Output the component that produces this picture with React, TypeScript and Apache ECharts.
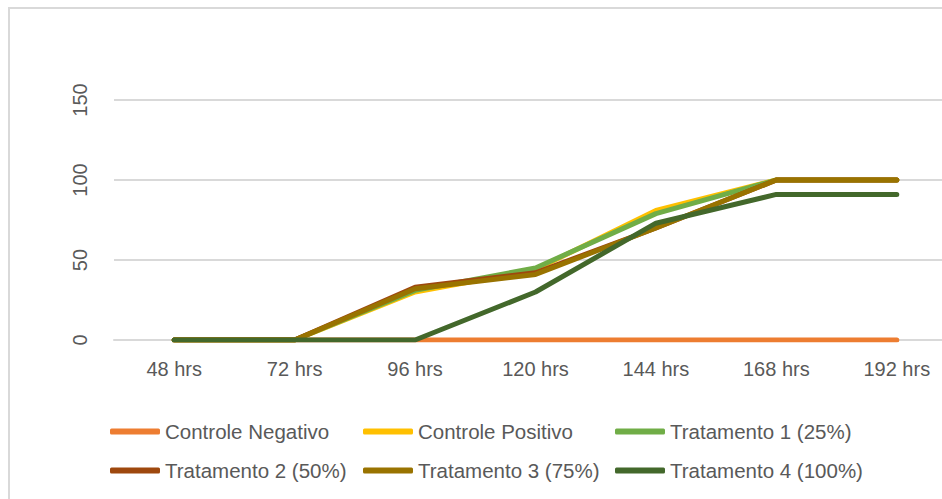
import React, { useEffect, useRef } from "react";
import * as echarts from "echarts";

// Category labels (hours after inoculation)
const categories = ["48 hrs", "72 hrs", "96 hrs", "120 hrs", "144 hrs", "168 hrs", "192 hrs"];

// Series values (%)
const controleNegativo = [0, 0, 0, 0, 0, 0, 0];
const controlePositivo = [0, 0, 30, 44, 81, 100, 100];
const tratamento1 = [0, 0, 31, 45, 79, 100, 100];
const tratamento2 = [0, 0, 33, 42, 70, 100, 100];
const tratamento3 = [0, 0, 32, 41, 70, 100, 100];
const tratamento4 = [0, 0, 0, 30, 73, 91, 91];

const seriesNames = [
  "Controle Negativo",
  "Controle Positivo",
  "Tratamento 1 (25%)",
  "Tratamento 2 (50%)",
  "Tratamento 3 (75%)",
  "Tratamento 4 (100%)",
];
const seriesData = [controleNegativo, controlePositivo, tratamento1, tratamento2, tratamento3, tratamento4];
const seriesColors = ["#ED7D31", "#FFC000", "#70AD47", "#9E480E", "#997300", "#43682B"];

const FONT = "'Liberation Sans', Arial, sans-serif";
const TEXT_COLOR = "#595959";

// Legend slots: two rows of three columns
const legendCols = [110, 363, 615];
const legendRows = [421, 460];

export default function App() {
  const ref = useRef<HTMLDivElement>(null);

  useEffect(() => {
    if (!ref.current) return;
    const chart = echarts.init(ref.current, undefined, { renderer: "svg" });

    const legends = seriesNames.map((name, i) => ({
      data: [name],
      left: legendCols[i % 3],
      top: legendRows[Math.floor(i / 3)],
      itemWidth: 50,
      itemHeight: 6,
      icon: "roundRect",
      padding: 0,
      textStyle: { fontFamily: FONT, fontSize: 20.5, color: TEXT_COLOR },
      selectedMode: false,
    }));

    chart.setOption({
      animation: false,
      backgroundColor: "#ffffff",
      graphic: [
        {
          type: "rect",
          shape: { x: 9, y: 8, width: 1000, height: 600 },
          style: { fill: "none", stroke: "#d9d9d9", lineWidth: 2 },
          silent: true,
        },
      ],
      legend: legends,
      grid: { left: 114, top: 100, width: 843, height: 240 },
      xAxis: {
        type: "category",
        data: categories,
        boundaryGap: true,
        axisLine: { show: true, lineStyle: { color: "#d9d9d9", width: 2 } },
        axisTick: { show: false },
        axisLabel: {
          color: TEXT_COLOR,
          fontFamily: FONT,
          fontSize: 20,
          margin: 19,
          interval: 0,
        },
      },
      yAxis: {
        type: "value",
        min: 0,
        max: 150,
        interval: 50,
        axisLine: { show: false },
        axisTick: { show: false },
        splitLine: { lineStyle: { color: "#d9d9d9", width: 2 } },
        axisLabel: {
          color: TEXT_COLOR,
          fontFamily: FONT,
          fontSize: 20,
          rotate: 90,
          margin: 24,
        },
      },
      series: seriesNames.map((name, i) => ({
        name,
        type: "line",
        data: seriesData[i],
        symbol: "none",
        color: seriesColors[i],
        lineStyle: { width: 5, color: seriesColors[i], cap: "round", join: "round" },
      })),
    });

    return () => chart.dispose();
  }, []);

  // The canvas runs a little past the right edge of the window, so the
  // plot area continues beyond the visible frame.
  return (
    <div
      ref={ref}
      style={{ position: "fixed", left: 0, top: 0, width: 980, height: 499 }}
    />
  );
}
